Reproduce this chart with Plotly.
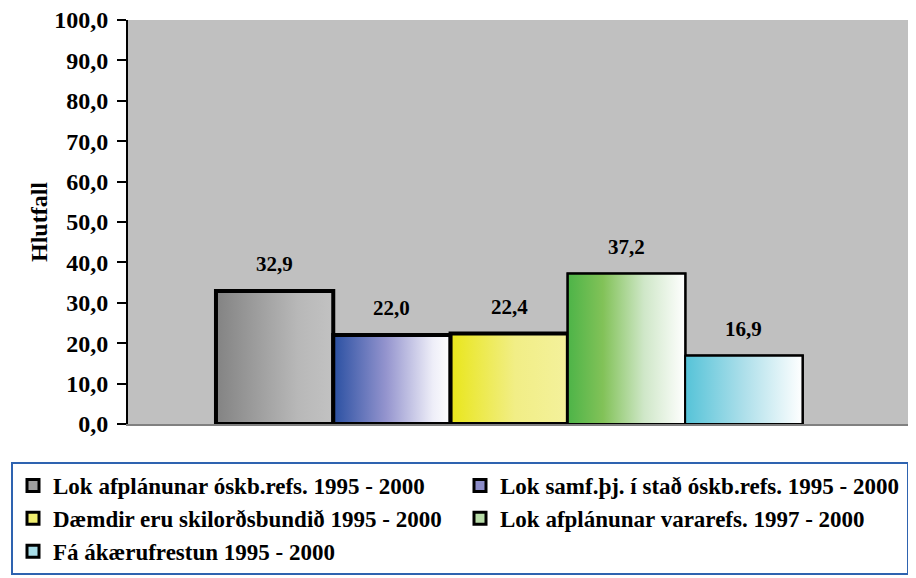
import plotly.graph_objects as go

categories = [
    "Lok afplánunar óskb.refs. 1995 - 2000",
    "Lok samf.þj. í stað óskb.refs. 1995 - 2000",
    "Dæmdir eru skilorðsbundið 1995 - 2000",
    "Lok afplánunar vararefs. 1997 - 2000",
    "Fá ákærufrestun 1995 - 2000",
]
values = [32.9, 22.0, 22.4, 37.2, 16.9]
y_ticks = [0, 10, 20, 30, 40, 50, 60, 70, 80, 90, 100]
y_title = "Hlutfall"

gradients = [
    [[0, "#838383"], [0.7, "#B8B8B8"], [1, "#C2C2C2"]],
    [[0, "#2A50A2"], [0.45, "#9494CE"], [0.85, "#EEEEF8"], [1, "#FFFFFF"]],
    [[0, "#E9E61A"], [0.55, "#F1EE86"], [1, "#F4F19C"]],
    [[0, "#4DB448"], [0.3, "#82C258"], [0.65, "#CFE7C8"], [1, "#FFFFFF"]],
    [[0, "#55C3D8"], [0.5, "#ADDFEA"], [1, "#FFFFFF"]],
]
swatch = ["#A0A0A0", "#8C8CC8", "#F0EE70", "#B8DCA8", "#A8DDE8"]
outline_w = [4, 4, 4, 2, 2]

FONT = "Liberation Serif"
fig = go.Figure()

for i, (name, v) in enumerate(zip(categories, values)):
    fig.add_trace(go.Bar(
        x=[i], y=[v], width=1, name=name,
        marker=dict(color=swatch[i], line=dict(color="black", width=3)),
        hoverinfo="skip",
    ))

for i, v in enumerate(values):
    fig.add_trace(go.Scatter(
        x=[i - 0.5, i + 0.5, i + 0.5, i - 0.5, i - 0.5],
        y=[0, 0, v, v, 0],
        mode="lines", fill="toself",
        fillgradient=dict(type="horizontal", colorscale=gradients[i]),
        line=dict(color="black", width=outline_w[i]),
        showlegend=False, hoverinfo="skip",
    ))

for i, v in enumerate(values):
    fig.add_annotation(
        x=i, y=v, yshift=27, showarrow=False,
        text=f"{v:.1f}".replace(".", ","),
        font=dict(family=FONT, size=21, color="black", weight="bold"),
    )

# page has an 8px body margin, so the figure is 908x570 placed at (8, 8)
fig.update_layout(
    width=908, height=570,
    margin=dict(l=120, r=8, t=12, b=154, autoexpand=False),
    paper_bgcolor="white", plot_bgcolor="#C0C0C0",
    barmode="overlay", separators=",.",
    showlegend=True,
    legend=dict(
        orientation="h", xref="paper", yref="paper",
        x=-0.1500, y=-0.094, xanchor="left", yanchor="top",
        entrywidth=402, entrywidthmode="pixels",
        bordercolor="#2E63B0", borderwidth=2, bgcolor="white",
        font=dict(family=FONT, size=23, color="black", weight="bold"),
        traceorder="normal", tracegroupgap=0,
    ),
    xaxis=dict(
        range=[-1.25, 5.4], showticklabels=False, ticks="",
        showgrid=False, zeroline=False,
        showline=True, linecolor="#808080", linewidth=2,
    ),
    yaxis=dict(
        range=[0, 100], tickvals=y_ticks, tickformat=".1f",
        ticks="outside", ticklen=9, tickwidth=2, tickcolor="black",
        showline=True, linecolor="black", linewidth=2,
        showgrid=False, zeroline=False, ticklabelstandoff=4,
        ticklabeloverflow="allow", automargin=False,
        tickfont=dict(family=FONT, size=24, color="black", weight="bold"),
        title=dict(text=y_title, standoff=0,
                   font=dict(family=FONT, size=24, color="black", weight="bold")),
    ),
)

fig.write_html("out.html")
